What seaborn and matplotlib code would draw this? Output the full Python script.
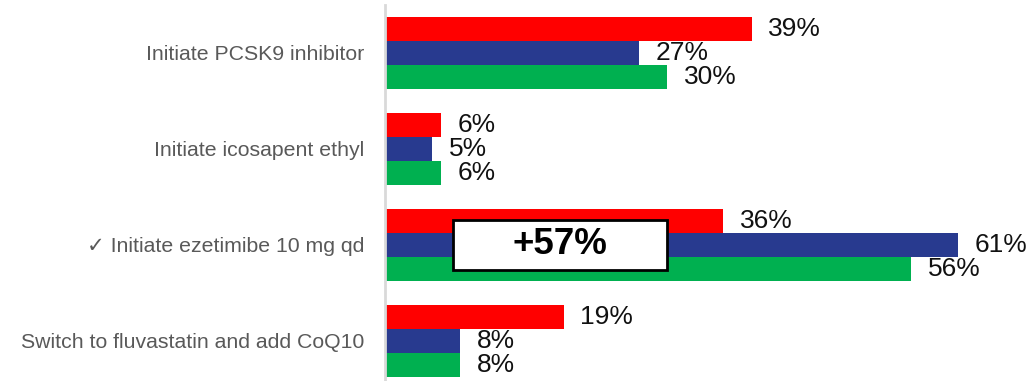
import matplotlib
matplotlib.use("Agg")
import matplotlib.pyplot as plt
from matplotlib.patches import Rectangle
import seaborn as sns
import pandas as pd

# Data
categories = [
    "Initiate PCSK9 inhibitor",
    "Initiate icosapent ethyl",
    "\u2713 Initiate ezetimibe 10 mg qd",
    "Switch to fluvastatin and add CoQ10",
]
series_names = ["Series 1", "Series 2", "Series 3"]
series_1 = [39, 6, 36, 19]
series_2 = [27, 5, 61, 8]
series_3 = [30, 6, 56, 8]
series_colors = ["#FF0000", "#283A8F", "#00B050"]
callout_text = "+57%"
callout_category = 2

sns.set_theme(style="white")
plt.rcParams["font.family"] = ["Liberation Sans", "DejaVu Sans"]

rows = []
for name, vals in zip(series_names, [series_1, series_2, series_3]):
    for cat, v in zip(categories, vals):
        rows.append({"category": cat, "series": name, "value": v})
df = pd.DataFrame(rows)

W, H = 1028, 381
fig = plt.figure(figsize=(W / 100, H / 100), dpi=100)
ax = fig.add_axes([385 / W, -8 / H, (W - 385) / W, 384 / H])

sns.barplot(
    data=df, y="category", x="value", hue="series",
    order=categories, hue_order=series_names,
    palette=series_colors, width=0.75, orient="h",
    saturation=1, edgecolor="none", linewidth=0, legend=False, ax=ax,
)

ax.set_xlim(0, (W - 385) / 9.4)
ax.set_ylim(3.5, -0.5)
ax.set_xlabel("")
ax.set_ylabel("")
ax.set_xticks([])

for sp in ["top", "right", "bottom"]:
    ax.spines[sp].set_visible(False)
ax.spines["left"].set_color("#D9D9D9")
ax.spines["left"].set_linewidth(2)

ax.tick_params(axis="y", length=0, pad=15, labelsize=15.3, labelcolor="#595959")

for cont, vals in zip(ax.containers, [series_1, series_2, series_3]):
    ax.bar_label(cont, labels=[f"{v}%" for v in vals], padding=12,
                 fontsize=19, color="#111111")

# Callout box over the ezetimibe group
bx0, bx1 = 7.2, 30.0
half_h = 0.26
ax.add_patch(Rectangle((bx0, callout_category - half_h), bx1 - bx0, 2 * half_h,
                       facecolor="white", edgecolor="black", linewidth=2, zorder=5))
ax.text((bx0 + bx1) / 2, callout_category, callout_text, ha="center", va="center",
        fontsize=26.5, fontweight="bold", color="black", zorder=6)

fig.savefig("out.png", dpi=100)
